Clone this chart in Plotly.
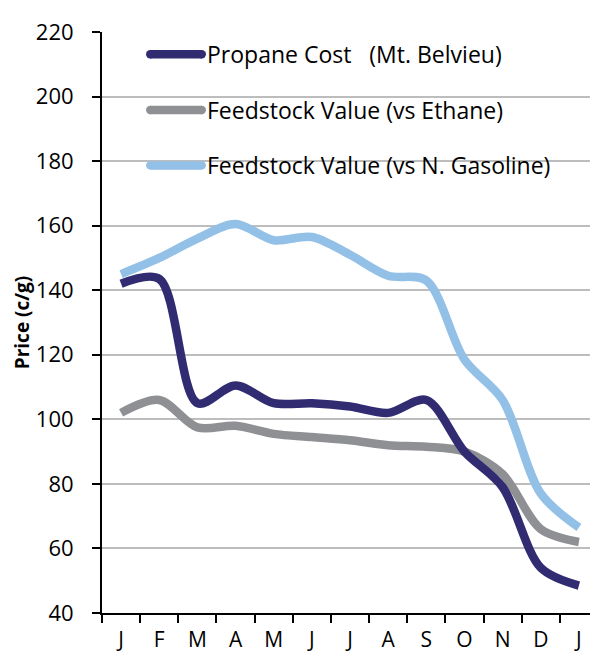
import plotly.graph_objects as go

months = ["J", "F", "M", "A", "M", "J", "J", "A", "S", "O", "N", "D", "J"]
propane_cost = [142, 143.5, 105, 110.5, 105, 105, 104, 102, 106, 90, 79, 54, 48.5]
ethane_value = [102, 106, 97.5, 98, 95.5, 94.5, 93.5, 92, 91.5, 90, 83, 66, 62]
gasoline_value = [145, 150, 156, 160.5, 155.5, 156.5, 151, 144.5, 143, 118.5, 106, 77, 66.5]

series_names = [
    "Propane Cost   (Mt. Belvieu)",
    "Feedstock Value (vs Ethane)",
    "Feedstock Value (vs N. Gasoline)",
]
series_values = [propane_cost, ethane_value, gasoline_value]
colors = ["#312C72", "#8F9094", "#93C0E7"]

# the page body adds an 8px offset; compensate in margins
OFF = 8
W, H = 598, 654
PL, PR, PT, PB = 102, 598, 25, 613          # target plot box in window pixels
L, T = PL - OFF, PT - OFF
R = (OFF + W) - PR
B = (OFF + H) - PB
FONT = "'Open Sans', Lato, sans-serif"

x_idx = list(range(len(months)))

fig = go.Figure()
for i in [2, 1, 0]:
    fig.add_trace(go.Scatter(
        x=x_idx, y=series_values[i], name=series_names[i], mode="lines",
        line=dict(color=colors[i], width=8.5, shape="spline", smoothing=0.9),
        showlegend=False,
    ))

def px_x(p):
    return (p - PL) / (PR - PL)

def px_y(p):
    return 1 - (p - PT) / (PB - PT)

legend_y = [47.5, 104, 160]
shapes = []
annotations = []
for name, col, yy in zip(series_names, colors, legend_y):
    shapes.append(dict(type="line", xref="paper", yref="paper",
                       x0=px_x(150), x1=px_x(202), y0=px_y(yy), y1=px_y(yy),
                       line=dict(color=col, width=8.5)))
    shapes.append(dict(type="circle", xref="paper", yref="paper",
                       x0=px_x(146), x1=px_x(154.5), y0=px_y(yy - 4.25), y1=px_y(yy + 4.25),
                       fillcolor=col, line=dict(width=0)))
    shapes.append(dict(type="circle", xref="paper", yref="paper",
                       x0=px_x(197.5), x1=px_x(206), y0=px_y(yy - 4.25), y1=px_y(yy + 4.25),
                       fillcolor=col, line=dict(width=0)))
    annotations.append(dict(xref="paper", yref="paper", x=px_x(205), y=px_y(yy),
                            xanchor="left", yanchor="middle", showarrow=False,
                            text=name, font=dict(family=FONT, size=23, color="#000")))

fig.update_layout(
    width=W, height=H, autosize=False,
    margin=dict(l=L, r=R, t=T, b=B, pad=0),
    paper_bgcolor="white", plot_bgcolor="white",
    shapes=shapes, annotations=annotations,
    font=dict(family=FONT, size=22, color="#000"),
)
fig.update_xaxes(
    type="category", tickvals=x_idx, ticktext=months, tickson="boundaries",
    range=[-0.5, 12.5],
    showgrid=False, showline=True, linecolor="#000", linewidth=2,
    ticks="outside", ticklen=8, tickwidth=2, tickcolor="#000",
    tickfont=dict(family=FONT, size=21, color="#000"),
    ticklabelstandoff=7,
)
fig.update_yaxes(
    range=[40, 220], dtick=20, tick0=40,
    showgrid=True, gridcolor="#BDBDBD", gridwidth=1.5,
    zeroline=False, showline=True, linecolor="#000", linewidth=2,
    ticks="outside", ticklen=8, tickwidth=2, tickcolor="#000",
    tickfont=dict(family=FONT, size=22, color="#000"),
    ticklabelstandoff=14,
    title=dict(text="<b>Price (c/g)</b>", font=dict(family=FONT, size=19, color="#000"), standoff=1),
)

fig.write_html("out.html")
